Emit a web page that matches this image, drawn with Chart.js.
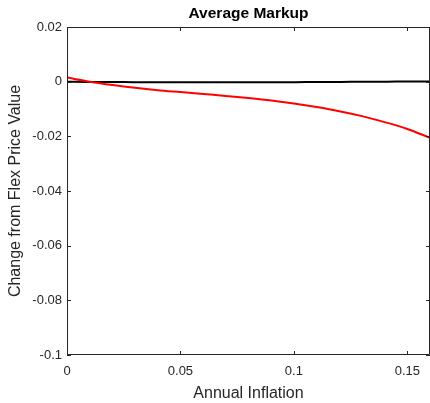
<!DOCTYPE html>
<html>
<head>
<meta charset="utf-8">
<script src="https://cdn.jsdelivr.net/npm/chart.js@4"></script>
<style>
  html, body { margin: 0; padding: 0; background: #fff; }
  #wrap { width: 430px; height: 403px; }
</style>
</head>
<body>
<div id="wrap"><canvas id="markupChart" width="430" height="403"></canvas></div>
<script>
// x軸: 年間インフレ率
const inflation = [0, 0.01, 0.02, 0.03, 0.04, 0.05, 0.06, 0.07, 0.08, 0.09, 0.10, 0.11, 0.12, 0.13, 0.14, 0.15, 0.16];
// 赤線
const redSeries = [0.0015, 0.0000, -0.0012, -0.0022, -0.0031, -0.0038, -0.0045, -0.0052, -0.0060, -0.0069, -0.0080, -0.0093, -0.0108, -0.0126, -0.0148, -0.0173, -0.0205];
// 黒線
const blackSeries = [0, -0.0001, -0.0001, -0.0002, -0.0002, -0.0002, -0.0002, -0.0002, -0.0002, -0.0002, -0.0002, -0.0001, -0.0001, 0, 0, 0.0001, 0.0001];
// 目盛り
const xTicks = [0, 0.05, 0.1, 0.15];
const yTicks = [-0.1, -0.08, -0.06, -0.04, -0.02, 0, 0.02];

const axisColor = '#262626';
const fontFamily = '"Liberation Sans", Arial, Helvetica, sans-serif';

function toPoints(ys) {
    return inflation.map((x, i) => ({ x: x, y: ys[i] }));
}

// 枠と内向きの目盛り
const boxPlugin = {
    id: 'boxPlugin',
    afterDatasetsDraw(chart) {
        const ctx = chart.ctx;
        const a = chart.chartArea;
        const xs = chart.scales.x;
        const ys = chart.scales.y;
        const len = 4;
        ctx.save();
        ctx.strokeStyle = axisColor;
        ctx.lineWidth = 1;
        ctx.beginPath();
        ctx.rect(a.left + 0.5, a.top + 0.5, a.right - a.left - 1, a.bottom - a.top - 1);
        xTicks.forEach(v => {
            const px = Math.round(xs.getPixelForValue(v)) + 0.5;
            ctx.moveTo(px, a.bottom);
            ctx.lineTo(px, a.bottom - len);
            ctx.moveTo(px, a.top);
            ctx.lineTo(px, a.top + len);
        });
        yTicks.forEach(v => {
            const py = Math.round(ys.getPixelForValue(v)) + 0.5;
            ctx.moveTo(a.left, py);
            ctx.lineTo(a.left + len, py);
            ctx.moveTo(a.right, py);
            ctx.lineTo(a.right - len, py);
        });
        ctx.stroke();
        ctx.restore();
    }
};

const ctx = document.getElementById('markupChart').getContext('2d');
new Chart(ctx, {
    type: 'line',
    data: {
        datasets: [{
            data: toPoints(redSeries),
            borderColor: '#ff0000',
            borderWidth: 2,
            pointRadius: 0,
            cubicInterpolationMode: 'monotone',
            order: 0
        }, {
            data: toPoints(blackSeries),
            borderColor: '#000000',
            borderWidth: 2,
            pointRadius: 0,
            cubicInterpolationMode: 'monotone',
            order: 1
        }]
    },
    options: {
        responsive: false,
        animation: false,
        layout: { padding: 0 },
        plugins: {
            legend: { display: false },
            tooltip: { enabled: false },
            title: {
                display: true,
                fullSize: false,
                text: 'Average Markup',
                color: '#000',
                font: { family: fontFamily, size: 15.5, weight: 'bold', lineHeight: 1.2 },
                padding: { top: 4, bottom: 4.4 }
            }
        },
        scales: {
            x: {
                type: 'linear',
                min: 0,
                max: 0.16,
                grid: { display: false, drawTicks: false },
                border: { display: false },
                afterBuildTicks: s => { s.ticks = xTicks.map(v => ({ value: v })); },
                afterFit: s => { s.height = 48; },
                ticks: {
                    color: axisColor,
                    padding: 9,
                    maxRotation: 0,
                    font: { family: fontFamily, size: 13 },
                    callback: v => String(v)
                },
                title: {
                    display: true,
                    text: 'Annual Inflation',
                    color: axisColor,
                    font: { family: fontFamily, size: 16 },
                    padding: { top: 0, bottom: 0 }
                }
            },
            y: {
                type: 'linear',
                min: -0.1,
                max: 0.02,
                grid: { display: false, drawTicks: false },
                border: { display: false },
                afterBuildTicks: s => { s.ticks = yTicks.map(v => ({ value: v })); },
                afterFit: s => { s.width = 67; },
                ticks: {
                    color: axisColor,
                    padding: 5,
                    font: { family: fontFamily, size: 13 },
                    callback: v => String(Math.round(v * 100) / 100)
                },
                title: {
                    display: true,
                    text: 'Change from Flex Price Value',
                    color: axisColor,
                    font: { family: fontFamily, size: 16 },
                    padding: { top: 6, bottom: 0 }
                }
            }
        }
    },
    plugins: [boxPlugin]
});
</script>
</body>
</html>
